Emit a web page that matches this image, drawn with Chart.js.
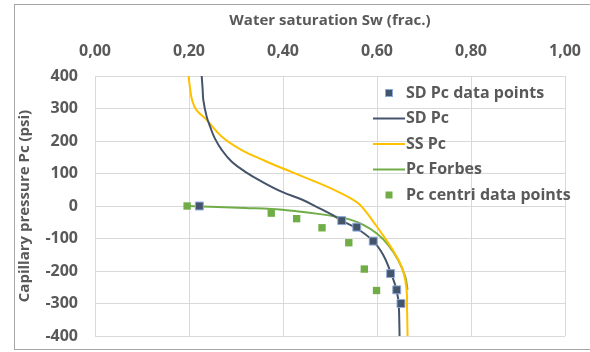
<!DOCTYPE html>
<html>
<head>
<meta charset="utf-8">
<script src="https://cdn.jsdelivr.net/npm/chart.js@4.4.1/dist/chart.umd.min.js"></script>
<style>
  html, body { margin: 0; padding: 0; background: #fff; }
  #wrap { width: 590px; height: 352px; }
</style>
</head>
<body>
<div id="wrap"><canvas id="pc"></canvas></div>
<script>
// SD Pc data points
const sdPointSw = [0.222, 0.525, 0.557, 0.592, 0.629, 0.642, 0.651];
const sdPointPc = [0, -45, -65, -108, -208, -258, -300];

// SD Pc fitted curve
const sdLineSw = [0.227, 0.229, 0.2305, 0.2376, 0.245, 0.255, 0.270, 0.291, 0.319, 0.355, 0.397, 0.440, 0.479, 0.503, 0.525, 0.557, 0.592, 0.613, 0.628, 0.640, 0.6455, 0.6468, 0.6475, 0.648];
const sdLinePc = [400, 360, 326, 275, 244, 208, 172, 136, 106, 75, 44, 20, -8, -26, -45, -69, -108, -150, -200, -250, -290, -320, -360, -400];

// SS Pc curve
const ssLineSw = [0.199, 0.2025, 0.2065, 0.216, 0.2376, 0.270, 0.312, 0.360, 0.404, 0.450, 0.514, 0.557, 0.575, 0.592, 0.617, 0.642, 0.656, 0.663, 0.664, 0.665];
const ssLinePc = [400, 360, 326, 295, 265, 213, 172, 140, 113, 86, 46, 12, -15, -48, -99, -156, -202, -258, -320, -400];

// Pc Forbes curve
const forbesSw = [0.196, 0.26, 0.32, 0.375, 0.429, 0.479, 0.514, 0.543, 0.571, 0.599, 0.624, 0.645, 0.660, 0.665];
const forbesPc = [0, -3, -6, -9, -16, -25, -33, -42, -58, -84, -120, -166, -217, -258];

// Pc centri data points
const centriSw = [0.196, 0.375, 0.429, 0.483, 0.540, 0.573, 0.599];
const centriPc = [0, -22, -39, -67, -113, -194, -260];

const xTicks = [0, 0.2, 0.4, 0.6, 0.8, 1.0];
const yTicks = [-400, -300, -200, -100, 0, 100, 200, 300, 400];

const toXY = (xs, ys) => xs.map((x, i) => ({ x: x, y: ys[i] }));

const textColor = '#595959';
const gridColor = '#D9D9D9';
const fontFamily = '"Open Sans", "Liberation Sans", sans-serif';

// legend drawn inside the plot, Excel style (no background)
const insideLegend = {
  id: 'insideLegend',
  afterDraw(chart) {
    const ctx = chart.ctx;
    const sets = chart.data.datasets;
    ctx.save();
    ctx.font = 'bold 16px ' + fontFamily;
    ctx.textBaseline = 'middle';
    ctx.textAlign = 'left';
    sets.forEach((ds, i) => {
      const y = 93 + i * 25.5;
      if (ds.showLine === false) {
        ctx.fillStyle = ds.backgroundColor;
        ctx.fillRect(385.5, y - 3.5, 7, 7);
        if (ds.borderColor !== ds.backgroundColor) {
          ctx.strokeStyle = ds.borderColor;
          ctx.lineWidth = 1;
          ctx.strokeRect(385.5, y - 3.5, 7, 7);
        }
      } else {
        ctx.strokeStyle = ds.borderColor;
        ctx.lineWidth = ds.borderWidth;
        ctx.beginPath();
        ctx.moveTo(373, y);
        ctx.lineTo(405, y);
        ctx.stroke();
      }
      ctx.fillStyle = textColor;
      ctx.fillText(ds.label, 406, y);
    });
    ctx.restore();
  }
};

// outer chart frame
const frame = {
  id: 'frame',
  beforeDraw(chart) {
    const ctx = chart.ctx;
    ctx.save();
    ctx.fillStyle = '#fff';
    ctx.fillRect(0, 0, chart.width, chart.height);
    ctx.strokeStyle = '#A6A6A6';
    ctx.lineWidth = 1;
    ctx.strokeRect(14.5, 4.5, 620, 345);
    ctx.restore();
  }
};

const lineSet = (label, xs, ys, color) => ({
  label: label,
  data: toXY(xs, ys),
  showLine: true,
  pointRadius: 0,
  borderColor: color,
  backgroundColor: color,
  borderWidth: 2,
  tension: 0.4
});

new Chart(document.getElementById('pc'), {
  type: 'scatter',
  data: {
    datasets: [
      {
        label: 'SD Pc data points',
        data: toXY(sdPointSw, sdPointPc),
        showLine: false,
        pointStyle: 'rect',
        pointRadius: 5.6,
        backgroundColor: '#44546A',
        borderColor: '#8FAADC',
        borderWidth: 1
      },
      lineSet('SD Pc', sdLineSw, sdLinePc, '#44546A'),
      lineSet('SS Pc', ssLineSw, ssLinePc, '#FFC000'),
      lineSet('Pc Forbes', forbesSw, forbesPc, '#70AD47'),
      {
        label: 'Pc centri data points',
        data: toXY(centriSw, centriPc),
        showLine: false,
        pointStyle: 'rect',
        pointRadius: 5.2,
        backgroundColor: '#70AD47',
        borderColor: '#70AD47',
        borderWidth: 0
      }
    ]
  },
  options: {
    responsive: true,
    maintainAspectRatio: false,
    animation: false,
    layout: { padding: { left: 0, top: 0, right: 25, bottom: 16 } },
    plugins: {
      legend: { display: false },
      tooltip: { enabled: false }
    },
    scales: {
      x: {
        type: 'linear',
        position: 'top',
        min: 0,
        max: 1,
        afterBuildTicks: (scale) => { scale.ticks = xTicks.map(v => ({ value: v })); },
        afterFit: (scale) => {
          scale.height = 76;
          scale.paddingLeft = 0; scale.paddingRight = 0;
        },
        grid: { color: gridColor, drawTicks: false },
        border: { color: gridColor },
        ticks: {
          padding: 15,
          color: textColor,
          font: { family: fontFamily, size: 16, weight: 'bold' },
          callback: (v) => v.toFixed(2).replace('.', ',')
        },
        title: {
          display: true,
          text: 'Water saturation Sw (frac.)',
          color: textColor,
          font: { family: fontFamily, size: 15, weight: 'bold' },
          padding: { top: 12, bottom: 0 }
        }
      },
      y: {
        type: 'linear',
        min: -400,
        max: 400,
        afterBuildTicks: (scale) => { scale.ticks = yTicks.map(v => ({ value: v })); },
        afterFit: (scale) => {
          scale.width = 95;
          scale.paddingTop = 0; scale.paddingBottom = 0;
        },
        grid: { color: gridColor, drawTicks: false },
        border: { color: gridColor },
        ticks: {
          padding: 17,
          color: textColor,
          font: { family: fontFamily, size: 16, weight: 'bold' }
        },
        title: {
          display: true,
          text: 'Capillary pressure Pc (psi)',
          color: textColor,
          font: { family: fontFamily, size: 15, weight: 'bold' },
          padding: { top: 16, bottom: 0 }
        }
      }
    }
  },
  plugins: [frame, insideLegend]
});
</script>
</body>
</html>
